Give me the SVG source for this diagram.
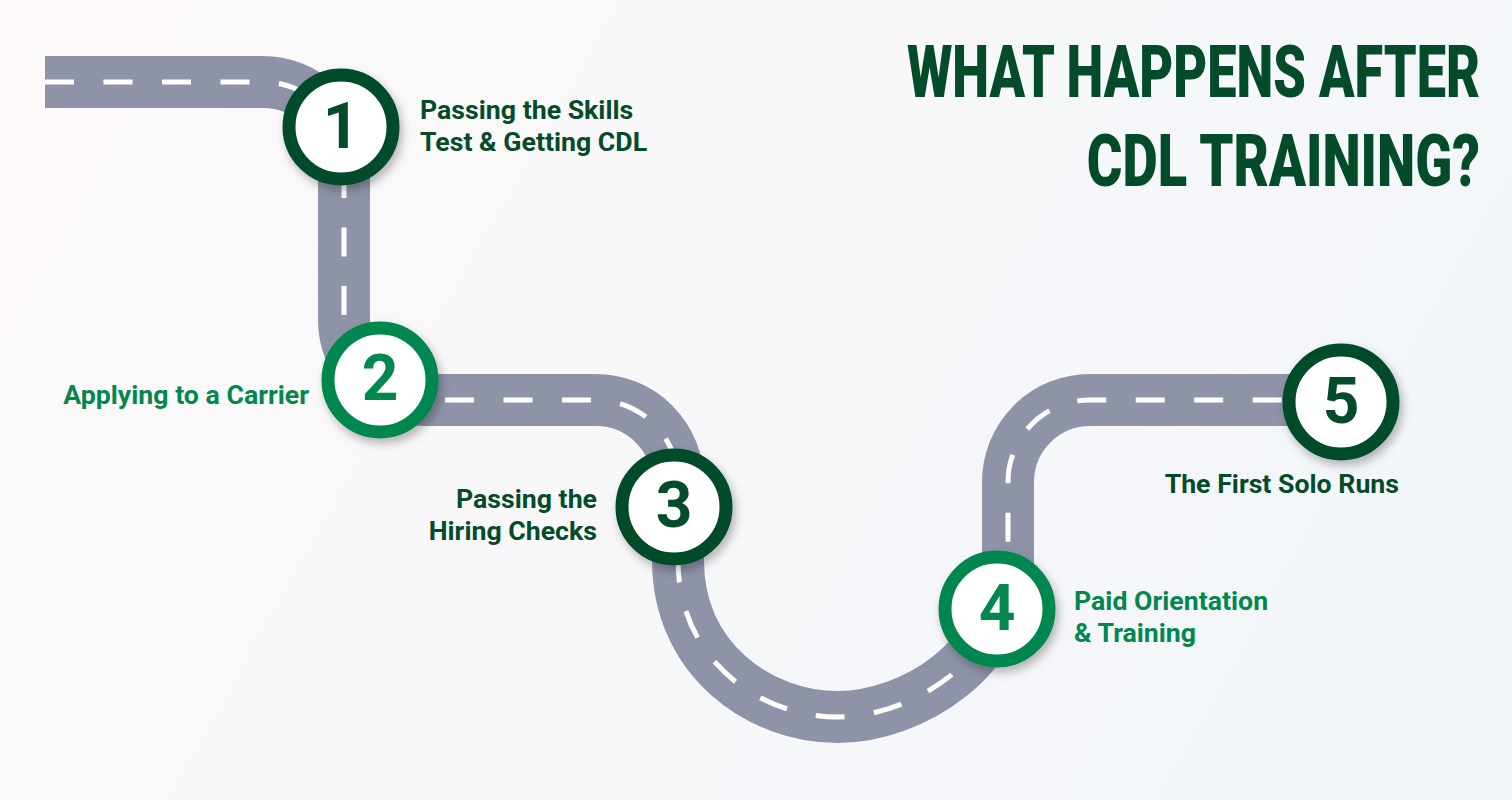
<svg xmlns="http://www.w3.org/2000/svg" width="1512" height="800" viewBox="0 0 1512 800">
  <defs>
    <linearGradient id="bg" x1="0" y1="0" x2="1" y2="0.3">
      <stop offset="0" stop-color="#fdf9f9"/>
      <stop offset="1" stop-color="#f3f6f9"/>
    </linearGradient>
    <filter id="sh" x="-30%" y="-30%" width="160%" height="160%">
      <feDropShadow dx="3" dy="5" stdDeviation="5" flood-color="#000" flood-opacity="0.28"/>
    </filter>
    <style>
      .road { fill: none; stroke: #8e93a8; stroke-width: 52; }
      .lane { fill: none; stroke: #ffffff; stroke-width: 5; stroke-dasharray: 29 29.5; }
      .c-dark { fill: #ffffff; stroke: #044b2a; stroke-width: 13; filter: url(#sh); }
      .c-mid { fill: #ffffff; stroke: #02874f; stroke-width: 13; filter: url(#sh); }
      .num { font-family: Roboto, "Liberation Sans", sans-serif; font-weight: 700; font-size: 64px; text-anchor: middle; }
      .lbl { font-family: Roboto, "Liberation Sans", sans-serif; font-weight: 700; font-size: 26.7px; }
      .dark { fill: #044b2a; }
      .mid { fill: #02874f; }
      .title { font-family: Roboto, "Liberation Sans", sans-serif; font-weight: 900; font-size: 73px; fill: #044b2a; text-anchor: end; }
    </style>
  </defs>
  <rect width="1512" height="800" fill="url(#bg)"/>

  <g id="title">
    <g transform="translate(1480,97) scale(0.716,1)">
      <text class="title" x="0" y="0">WHAT HAPPENS AFTER</text>
    </g>
    <g transform="translate(1480,186) scale(0.745,1)">
      <text class="title" x="0" y="0">CDL TRAINING?</text>
    </g>
  </g>

  <g id="connectors">
    <path class="road" d="M45,82 L263,82 A81,81 0 0 1 344,163 L344,320 A80,80 0 0 0 424,400 L596,400 A82,82 0 0 1 678,482 L678,560 C678,660 760,717 838,717 C910,717 1008,660 1008,560 L1008,482 A82,82 0 0 1 1090,400 L1341,400"/>
    <path class="lane" d="M45,82 L263,82 A81,81 0 0 1 344,163 L344,320 A80,80 0 0 0 424,400"/>
    <path class="lane" d="M445,400 L596,400 A82,82 0 0 1 678,482 L678,560 C678,660 760,717 838,717 C910,717 1008,660 1008,560"/>
    <path class="lane" stroke-dashoffset="40.2" d="M1008,560 L1008,482 A82,82 0 0 1 1090,400 L1341,400"/>
  </g>

  <g id="node1">
    <circle class="c-dark" cx="341" cy="127" r="52"/>
    <text class="num dark" x="341" y="148">1</text>
    <text class="lbl dark" x="420" y="119">Passing the Skills</text>
    <text class="lbl dark" x="420" y="151">Test &amp; Getting CDL</text>
  </g>

  <g id="node2">
    <circle class="c-mid" cx="380" cy="380" r="52"/>
    <text class="num mid" x="380" y="400">2</text>
    <text class="lbl mid" x="309" y="404" text-anchor="end">Applying to a Carrier</text>
  </g>

  <g id="node3">
    <circle class="c-dark" cx="674" cy="507" r="52"/>
    <text class="num dark" x="674" y="527">3</text>
    <text class="lbl dark" x="597" y="508" text-anchor="end">Passing the</text>
    <text class="lbl dark" x="597" y="540" text-anchor="end">Hiring Checks</text>
  </g>

  <g id="node4">
    <circle class="c-mid" cx="997" cy="609" r="52"/>
    <text class="num mid" x="997" y="630">4</text>
    <text class="lbl mid" x="1074" y="610">Paid Orientation</text>
    <text class="lbl mid" x="1074" y="642">&amp; Training</text>
  </g>

  <g id="node5">
    <circle class="c-dark" cx="1341" cy="402" r="52"/>
    <text class="num dark" x="1341" y="423">5</text>
    <text class="lbl dark" x="1399" y="493" text-anchor="end">The First Solo Runs</text>
  </g>
</svg>
